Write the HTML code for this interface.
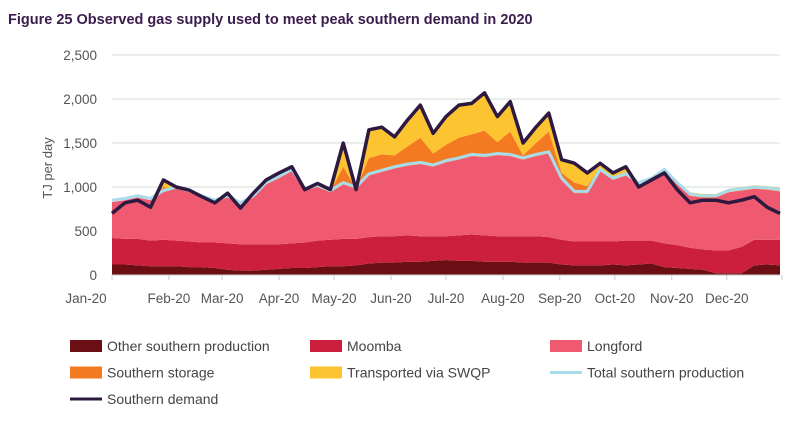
<!DOCTYPE html>
<html><head><meta charset="utf-8"><style>
body{margin:0;background:#fff;width:802px;height:420px;overflow:hidden;font-family:"Liberation Sans",sans-serif}
svg text{font-family:"Liberation Sans",sans-serif}
</style></head><body>
<svg id="chart" width="802" height="420">
<text x="8" y="24" font-size="14.5" font-weight="bold" fill="#3b1c4c">Figure 25  Observed gas supply used to meet peak southern demand in 2020</text>
<text transform="translate(52,168) rotate(-90)" text-anchor="middle" font-size="13" fill="#555">TJ per day</text>
<g id="grid"></g><g id="areas"></g><g id="lines"></g><g id="axes"></g>
<g id="legend"></g>
</svg>
<script>
const months=["Jan-20","Feb-20","Mar-20","Apr-20","May-20","Jun-20","Jul-20","Aug-20","Sep-20","Oct-20","Nov-20","Dec-20"];
const yTicks=[0,500,1000,1500,2000,2500];
const yTickLabels=["0","500","1,000","1,500","2,000","2,500"];
const other=[120,120,110,100,100,100,90,90,80,60,50,50,60,70,80,80,90,100,100,110,130,140,140,150,150,160,170,160,160,150,150,150,140,140,140,120,110,110,110,120,110,120,130,90,80,70,60,20,20,20,110,120,110];
const moomba=[300,290,300,290,300,290,290,280,290,300,300,300,290,280,280,290,300,300,310,300,300,300,300,300,290,280,270,290,300,300,290,290,300,300,290,280,270,270,270,260,280,270,260,270,260,240,230,260,260,300,290,280,290];
const longford=[410,440,470,460,540,590,560,510,460,520,450,530,680,750,820,590,610,540,620,570,700,730,770,790,820,790,840,860,890,890,920,910,870,910,950,680,550,550,800,700,740,640,690,820,690,590,590,600,660,640,580,570,550];
const storage=[0,0,0,0,60,0,10,0,0,20,0,20,20,20,20,0,10,10,200,0,200,200,150,220,300,150,200,250,250,300,150,280,50,150,250,80,120,80,30,20,30,0,0,0,0,0,0,0,0,0,0,0,0];
const swqp=[0,0,0,0,80,20,15,10,0,30,0,30,30,40,30,10,30,20,270,0,320,310,210,300,370,230,320,370,350,430,290,340,140,180,210,150,220,150,60,60,70,0,0,0,40,40,40,40,40,40,40,40,40];
const production=[850,870,900,870,960,1000,960,900,850,900,820,900,1050,1120,1200,980,1020,960,1050,1000,1150,1190,1230,1260,1280,1250,1300,1330,1370,1360,1380,1370,1330,1370,1400,1100,950,950,1200,1100,1150,1050,1100,1200,1050,920,900,900,960,980,1000,990,970];
const demand=[700,820,850,770,1080,1000,965,890,820,930,760,930,1080,1160,1230,970,1040,970,1500,970,1650,1680,1570,1760,1930,1610,1800,1930,1950,2070,1800,1970,1500,1680,1840,1310,1270,1160,1270,1160,1230,1000,1080,1160,970,820,850,850,820,850,890,770,700];

const X0=112,X1=780,Y0=275,PX=44/500;
const xs=i=>X0+(i*7)/364*(X1-X0);
const ys=v=>Y0-v*PX;
const NS="http://www.w3.org/2000/svg";
function mk(tag,attrs,parent){const e=document.createElementNS(NS,tag);for(const k in attrs)e.setAttribute(k,attrs[k]);parent.appendChild(e);return e;}
const grid=document.getElementById('grid'),axes=document.getElementById('axes');
yTicks.forEach((t,i)=>{
  if(t>0){const g=mk('line',{x1:X0,x2:X1,y1:ys(t),y2:ys(t),stroke:'#d5dcd5','stroke-width':1},grid);
  
  }
  const tx=mk('text',{x:97,y:ys(t)+5,'text-anchor':'end','font-size':13.5,fill:'#555'},axes);tx.textContent=yTickLabels[i];
  
  
});
const ax=mk('line',{x1:X0,x2:X1,y1:Y0,y2:Y0,stroke:'#ccc'},axes);


const mdays=[0,31,60,91,121,152,182,213,244,274,305,335,365];
mdays.forEach((d,i)=>{
  const x=X0+d/364*(X1-X0);
  const tk=mk('line',{x1:x,x2:x,y1:Y0,y2:Y0+5,stroke:'#ccc'},axes);
  
  
  if(i<12){const lx=i===0?86:x;const t=mk('text',{x:lx,y:303,'text-anchor':'middle','font-size':13.5,fill:'#555'},axes);t.textContent=months[i];
  
  }
});
const layers=[[other,'#6b0f14','other-southern-production-area'],[moomba,'#cc1f3d','moomba-area'],[longford,'#f05a70','longford-area'],[storage,'#f47a22','southern-storage-area'],[swqp,'#fdc431','swqp-area']];
const areas=document.getElementById('areas');
let base=other.map(()=>0);
layers.forEach(([arr,col,name])=>{
  const top=arr.map((v,i)=>base[i]+v);
  let d='M'+top.map((v,i)=>xs(i)+','+ys(v)).join('L');
  for(let i=arr.length-1;i>=0;i--)d+='L'+xs(i)+','+ys(base[i]);
  const p=mk('path',{d:d+'Z',fill:col},areas);
  
  
  base=top;
});
const lines=document.getElementById('lines');
const pl=mk('polyline',{points:production.map((v,i)=>xs(i)+','+ys(v)).join(' '),fill:'none',stroke:'#a8dcea','stroke-width':3},lines);


const dl=mk('polyline',{points:demand.map((v,i)=>xs(i)+','+ys(v)).join(' '),fill:'none',stroke:'#2e1a40','stroke-width':3.5,'stroke-linejoin':'round'},lines);


const legendItems=[["Other southern production",'#6b0f14','rect'],["Moomba",'#cc1f3d','rect'],["Longford",'#f05a70','rect'],["Southern storage",'#f47a22','rect'],["Transported via SWQP",'#fdc431','rect'],["Total southern production",'#a8dcea','line'],["Southern demand",'#2e1a40','line']];
const lg=document.getElementById('legend');
legendItems.forEach(([lab,col,type],i)=>{
  const cx=70+(i%3)*240,cy=346+Math.floor(i/3)*26.5;
  const g=mk('g',{},lg);
  
  
  if(type==='rect')mk('rect',{x:cx,y:cy-6,width:32,height:12,fill:col},g);
  else mk('line',{x1:cx,x2:cx+32,y1:cy,y2:cy,stroke:col,'stroke-width':3},g);
  const t=mk('text',{x:cx+37,y:cy+5,'font-size':14,fill:'#444'},g);t.textContent=lab;
});
</script>
</body></html>
